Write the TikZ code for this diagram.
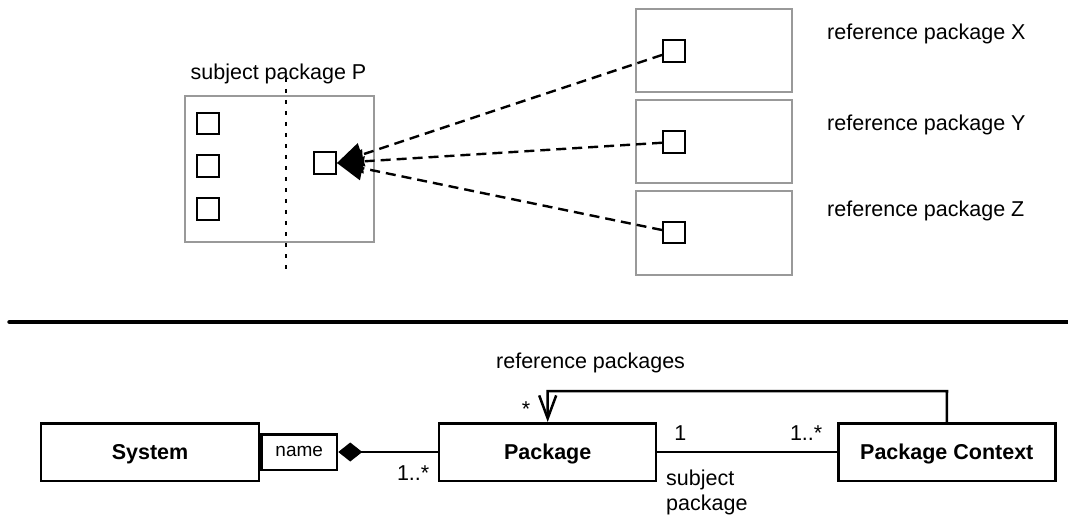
\documentclass[tikz,border=0pt]{standalone}
\usepackage{fontspec}
\setmainfont{Liberation Sans}
\usetikzlibrary{arrows.meta}
\tikzset{
  txt/.style={font=\fontsize{21.5bp}{24.3bp}\selectfont, inner sep=0pt, anchor=base},
  pkgbox/.style={draw=gray!80, line width=2bp, inner sep=0pt},
  elem/.style={draw, line width=2.4bp, minimum width=21.5bp, minimum height=21.5bp, inner sep=0pt},
  cls/.style={draw, line width=2.5bp, minimum height=57.5bp, inner sep=0pt,
    font=\fontsize{21.5bp}{26bp}\selectfont\bfseries, text height=15.5bp, text depth=0pt},
  attr/.style={draw, line width=2.5bp, minimum height=35.5bp, inner sep=0pt,
    font=\fontsize{19bp}{22bp}\selectfont, text height=9.6bp, text depth=0pt},
  dotline/.style={line width=2.5bp, dash pattern=on 4bp off 7bp},
  refline/.style={line width=2.4bp, dash pattern=on 10bp off 6bp,
    -{Triangle[length=26bp,width=24bp]}},
  assoc/.style={line width=2.5bp},
  separator/.style={line width=4.5bp, line cap=round}
}
\begin{document}
\begin{tikzpicture}[x=1bp,y=-1bp]
\useasboundingbox (0,0) rectangle (1068,517);
% ---------- top part ----------
\node[pkgbox, minimum width=189bp, minimum height=146bp] (P) at (279.5,169) {};
\node[pkgbox, minimum width=156bp, minimum height=82.5bp] (X) at (713.7,50.5) {};
\node[pkgbox, minimum width=156bp, minimum height=82.5bp] (Y) at (713.7,141.4) {};
\node[pkgbox, minimum width=156bp, minimum height=84bp] (Z) at (713.7,233) {};
\node[elem] (p1) at (208,123.5) {};
\node[elem] (p2) at (208,166) {};
\node[elem] (p3) at (208,209) {};
\node[elem] (ps) at (325,163) {};
\node[elem] (xs) at (674,51) {};
\node[elem] (ys) at (674,142) {};
\node[elem] (zs) at (674,232.5) {};
\node[txt] (lP) at (278.5,79.5) {subject package P};
\coordinate (dtop) at (286,78);
\coordinate (dbot) at (286,271);
\draw[dotline] (dtop) -- (dbot);
\draw[refline] (xs) -- (ps.east);
\draw[refline] (ys) -- (ps.east);
\draw[refline] (zs) -- (ps.east);
\node[txt, anchor=base west] (lX) at (827,39.3) {reference package X};
\node[txt, anchor=base west] (lY) at (827,131) {reference package Y};
\node[txt, anchor=base west] (lZ) at (827,216.7) {reference package Z};
% ---------- separator ----------
\coordinate (sl) at (9.5,322);
\coordinate (sr) at (1072,322);
\draw[separator] (sl) -- (sr);
% ---------- bottom part ----------
\node[cls, minimum width=218bp] (sys) at (150,452) {System};
\node[attr, minimum width=75.5bp, anchor=west] (name) at (sys.east) {name};
\node[cls, minimum width=217bp] (pkg) at (547.7,452) {Package};
\node[cls, minimum width=217bp] (ctx) at (946.8,452) {Package Context};
\draw[assoc, -{Diamond[length=24bp,width=19bp]}] (pkg.west) -- (name.east);
\draw[assoc] (pkg.east) -- (ctx.west);
\coordinate (bend) at (947,391);
\draw[assoc, -{Straight Barb[length=23bp,width=17bp]}] (ctx.north) -- (bend) -| (pkg.north);
\node[txt, anchor=base west] (lrp) at (496,368.3) {reference packages};
\node[txt] (lstar) at (526,416.7) {*};
\node[txt, anchor=base east] (lm1) at (429.5,480.7) {1..*};
\node[txt] (lone) at (680.3,440) {1};
\node[txt, anchor=base east] (lm2) at (822.5,440) {1..*};
\node[txt, anchor=north west, align=left] (lsp) at (666,470) {subject\\package};
\end{tikzpicture}
\end{document}
